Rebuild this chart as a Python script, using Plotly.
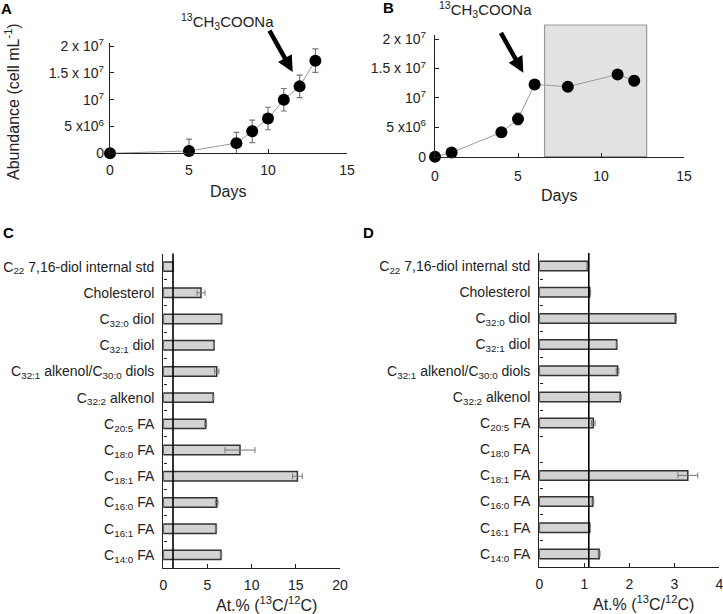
import plotly.graph_objects as go

W, H = 723, 614
FONT = "Liberation Sans, Arial, sans-serif"

# ---------- data ----------
daysA = [0, 5, 8, 9, 10, 11, 12, 13]
abundA = [0.0, 0.44e6, 1.9e6, 4.1e6, 6.5e6, 10.0e6, 12.5e6, 17.3e6]
errA = [0.1e6, 2.2e6, 2.0e6, 2.1e6, 2.1e6, 2.1e6, 2.1e6, 2.2e6]

daysB = [0, 1, 4, 5, 6, 8, 11, 12]
abundB = [0.0, 0.7e6, 4.15e6, 6.4e6, 12.3e6, 11.9e6, 14.0e6, 12.9e6]
errB = [0.2e6, 0.3e6, 0.8e6, 1.0e6, 0.7e6, 0.3e6, 0.3e6, 0.8e6]

ytick_vals = [0, 5e6, 1e7, 1.5e7, 2e7]
ytick_text = ["0", "5 x10<sup>6</sup>", "10<sup>7</sup>", "1.5 x 10<sup>7</sup>", "2 x 10<sup>7</sup>"]

shade_days = [6.6, 12.75]

lipids = [
    "C<sub>22</sub> 7,16-diol internal std",
    "Cholesterol",
    "C<sub>32:0</sub> diol",
    "C<sub>32:1</sub> diol",
    "C<sub>32:1</sub> alkenol/C<sub>30:0</sub> diols",
    "C<sub>32:2</sub> alkenol",
    "C<sub>20:5</sub> FA",
    "C<sub>18:0</sub> FA",
    "C<sub>18:1</sub> FA",
    "C<sub>16:0</sub> FA",
    "C<sub>16:1</sub> FA",
    "C<sub>14:0</sub> FA",
]
atC = [1.08, 4.27, 6.6, 5.74, 6.05, 5.66, 4.8, 8.68, 15.18, 6.05, 5.97, 6.53]
errC = [0.03, 0.45, 0.05, 0.05, 0.25, 0.05, 0.1, 1.7, 0.55, 0.15, 0.08, 0.08]
atD = [1.07, 1.12, 3.03, 1.72, 1.74, 1.80, 1.20, None, 3.30, 1.19, 1.12, 1.33]
errD = [0.0, 0.02, 0.02, 0.01, 0.03, 0.02, 0.04, 0.0, 0.22, 0.02, 0.01, 0.02]
natural_abundance = 1.1


def px(x):
    return x / W


def py(y):
    return 1 - y / H


fig = go.Figure()

# ---------- panel A / B growth curves ----------
for xs, ys, es, xa, ya in [(daysA, abundA, errA, "x", "y"), (daysB, abundB, errB, "x2", "y2")]:
    fig.add_trace(go.Scatter(
        x=xs, y=ys, mode="lines+markers", xaxis=xa, yaxis=ya,
        line=dict(color="#9a9a9a", width=1),
        marker=dict(color="black", size=12),
        error_y=dict(type="data", array=es, color="#777", thickness=1.2, width=3),
        cliponaxis=False, showlegend=False,
    ))

# ---------- panel C / D bars ----------
for vals, errs, xa, ya in [(atC, errC, "x3", "y3"), (atD, errD, "x4", "y4")]:
    fig.add_trace(go.Bar(
        x=vals, y=lipids, orientation="h", xaxis=xa, yaxis=ya, width=0.36,
        marker=dict(color="#d3d3d3", line=dict(color="#333", width=1.5)),
        error_x=dict(type="data", array=errs, color="#777", thickness=1, width=3),
        showlegend=False,
    ))

axcommon = dict(showline=True, linecolor="#222", linewidth=1.4, showgrid=False, zeroline=False,
                automargin=False, ticklabeloverflow="allow",
                ticks="inside", ticklen=4, tickcolor="#222", tickwidth=1,
                tickfont=dict(family=FONT, size=14, color="#222"))

doms = {
    "A": ([110, 347], [43, 153.3]),
    "B": ([435, 684], [35, 156.7]),
    "C": ([163.3, 340], [253.5, 568]),
    "D": ([539.3, 719.3], [253, 567]),
}


def xd(k):
    a, b = doms[k][0]
    return [px(a), px(b)]


def yd(k):
    a, b = doms[k][1]
    return [py(b), py(a)]


fig.update_layout(
    width=W, height=H, margin=dict(l=0, r=0, t=0, b=0, autoexpand=False),
    paper_bgcolor="white", plot_bgcolor="rgba(0,0,0,0)",
    font=dict(family=FONT, color="#222"),
    xaxis=dict(axcommon, domain=xd("A"), range=[0, 15], tickvals=[0, 5, 10, 15], anchor="y",
               ticklabelstandoff=4),
    yaxis=dict(axcommon, domain=yd("A"), range=[0, 20.6e6], tickvals=ytick_vals, ticktext=ytick_text,
               anchor="x", ticklabelstandoff=2),
    xaxis2=dict(axcommon, domain=xd("B"), range=[0, 15], tickvals=[0, 5, 10, 15], anchor="y2",
                ticklabelstandoff=6),
    yaxis2=dict(axcommon, domain=yd("B"), range=[0, 20.7e6], tickvals=ytick_vals, ticktext=ytick_text,
                anchor="x2", ticklabelstandoff=5),
    xaxis3=dict(axcommon, domain=xd("C"), range=[0, 20], tickvals=[0, 5, 10, 15, 20], anchor="y3",
                ticklabelstandoff=4),
    yaxis3=dict(axcommon, domain=yd("C"), type="category", categoryorder="array", categoryarray=lipids,
                range=[11.5, -0.5], anchor="x3", tickson="boundaries", ticklen=3, ticklabelstandoff=5),
    xaxis4=dict(axcommon, domain=xd("D"), range=[0, 4], tickvals=[0, 1, 2, 3, 4], anchor="y4",
                ticklabelstandoff=4),
    yaxis4=dict(axcommon, domain=yd("D"), type="category", categoryorder="array", categoryarray=lipids,
                range=[11.5, -0.5], anchor="x4", tickson="boundaries", ticklen=3, ticklabelstandoff=5),
    bargap=0.64,
)

# shaded period in panel B
fig.add_shape(type="rect", xref="x2", yref="y2 domain", x0=shade_days[0], x1=shade_days[1],
              y0=0, y1=1.082, fillcolor="#e2e2e2", line=dict(color="#9a9a9a", width=1.2), layer="below")

# natural abundance reference lines
for xa, ya in [("x3", "y3 domain"), ("x4", "y4 domain")]:
    fig.add_shape(type="line", xref=xa, yref=ya, x0=natural_abundance, x1=natural_abundance,
                  y0=0, y1=1, line=dict(color="black", width=1.6))

ann = []
# arrows
ann.append(dict(x=11.56, y=15.2e6, ax=10.04, ay=23.2e6, xref="x", yref="y", axref="x", ayref="y",
                text="", showarrow=True, arrowhead=2, arrowsize=0.7, arrowwidth=4.5, arrowcolor="black"))
ann.append(dict(x=5.32, y=14.3e6, ax=3.92, ay=21.3e6, xref="x2", yref="y2", axref="x2", ayref="y2",
                text="", showarrow=True, arrowhead=2, arrowsize=0.7, arrowwidth=4.5, arrowcolor="black"))


def txt(x, y, text, size=16, angle=0, color="#222"):
    ann.append(dict(x=px(x), y=py(y), xref="paper", yref="paper", text=text, showarrow=False,
                    xanchor="center", yanchor="middle", textangle=angle,
                    font=dict(size=size, family=FONT, color=color)))


lab = "<sup>13</sup>CH<sub>3</sub>COONa"
txt(227.5, 21.7, lab, 15)
txt(485.7, 9.3, lab, 15)
txt(12, 102, "Abundance (cell mL<sup>-1</sup>)", 16, -90)
txt(228, 192, "Days", 16)
txt(559, 196, "Days", 16)
txt(266.7, 604, "At.% (<sup>13</sup>C/<sup>12</sup>C)", 16)
txt(643, 603, "At.% (<sup>13</sup>C/<sup>12</sup>C)", 16)
for t, x, y in [("A", 6, 8), ("B", 388, 7), ("C", 8, 233), ("D", 368, 233)]:
    txt(x, y, "<b>%s</b>" % t, 15, 0, "black")
fig.update_layout(annotations=ann)

fig.write_html("out.html", config={"displayModeBar": False},
               post_script="document.body.style.margin='0';document.body.style.padding='0';")
